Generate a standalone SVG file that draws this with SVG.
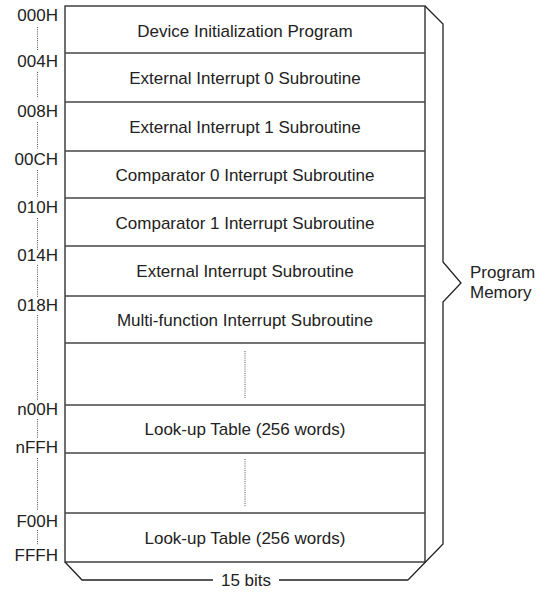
<svg xmlns="http://www.w3.org/2000/svg" width="548" height="597" viewBox="0 0 548 597">
<style>
text{font-family:"Liberation Sans",Arial,Helvetica,sans-serif;fill:#222}
.c{font-size:17px;text-anchor:middle}
.a{font-size:17px;text-anchor:end}
.p{font-size:17px}
.row{fill:#fff;stroke:#333;stroke-width:1.4}
.sep{stroke:#444;stroke-width:1.5;fill:none}
.dot{stroke:#555;stroke-width:1;stroke-dasharray:1 1.2;fill:none}
.br{stroke:#222;stroke-width:1.3;fill:none}
</style>
<rect width="548" height="597" fill="#fff"/>
<g id="memory">
<rect class="row" x="65" y="6" width="360" height="556"/>
</g>
<g id="rows">
<g id="r0"><text class="c" x="245" y="37">Device Initialization Program</text></g>
<g id="r1"><line class="sep" x1="65" y1="53" x2="425" y2="53"/><text class="c" x="245" y="84">External Interrupt 0 Subroutine</text></g>
<g id="r2"><line class="sep" x1="65" y1="102" x2="425" y2="102"/><text class="c" x="245" y="133">External Interrupt 1 Subroutine</text></g>
<g id="r3"><line class="sep" x1="65" y1="151" x2="425" y2="151"/><text class="c" x="245" y="181">Comparator 0 Interrupt Subroutine</text></g>
<g id="r4"><line class="sep" x1="65" y1="198" x2="425" y2="198"/><text class="c" x="245" y="229">Comparator 1 Interrupt Subroutine</text></g>
<g id="r5"><line class="sep" x1="65" y1="246" x2="425" y2="246"/><text class="c" x="245" y="277">External Interrupt Subroutine</text></g>
<g id="r6"><line class="sep" x1="65" y1="296" x2="425" y2="296"/><text class="c" x="245" y="326">Multi-function Interrupt Subroutine</text></g>
<g id="r7"><line class="sep" x1="65" y1="343" x2="425" y2="343"/><line class="dot" x1="245" y1="351" x2="245" y2="398"/></g>
<g id="r8"><line class="sep" x1="65" y1="405" x2="425" y2="405"/><text class="c" x="245" y="435">Look-up Table (256 words)</text></g>
<g id="r9"><line class="sep" x1="65" y1="453" x2="425" y2="453"/><line class="dot" x1="245" y1="459" x2="245" y2="507"/></g>
<g id="r10"><line class="sep" x1="65" y1="513" x2="425" y2="513"/><text class="c" x="245" y="544">Look-up Table (256 words)</text></g>
</g>
<g id="addresses">
<text class="a" x="58" y="21">000H</text>
<text class="a" x="58" y="67">004H</text>
<text class="a" x="58" y="117">008H</text>
<text class="a" x="58" y="165">00CH</text>
<text class="a" x="58" y="213">010H</text>
<text class="a" x="58" y="261">014H</text>
<text class="a" x="58" y="311">018H</text>
<text class="a" x="58" y="415">n00H</text>
<text class="a" x="58" y="453">nFFH</text>
<text class="a" x="58" y="527">F00H</text>
<text class="a" x="58" y="561">FFFH</text>
<path class="dot" d="M37.5 27V51M37.5 72V97M37.5 122V149M37.5 170V197M37.5 218V250M37.5 265V297M37.5 315V400M37.5 419V438M37.5 458V510M37.5 530V545"/>
</g>
<g id="connectors">
<path class="br" d="M425 6L443 24V262L461 283L443 302V544L408 580"/>
<path class="br" d="M65 562L82 580H213M279 580H408"/>
</g>
<g id="labels">
<text class="p" x="470" y="278">Program</text>
<text class="p" x="470" y="298">Memory</text>
<text class="c" x="246" y="586">15 bits</text>
</g>
</svg>
